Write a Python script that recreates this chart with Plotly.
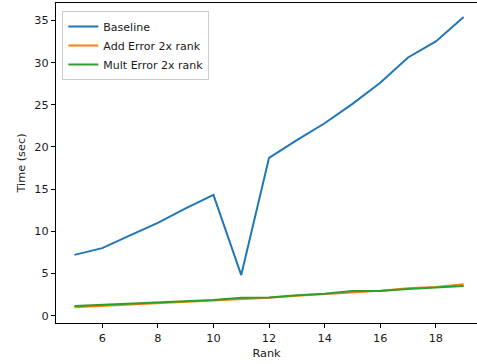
import plotly.graph_objects as go

rank = [5, 6, 7, 8, 9, 10, 11, 12, 13, 14, 15, 16, 17, 18, 19]
baseline = [7.2, 8.0, 9.5, 11.0, 12.7, 14.3, 4.8, 18.7, 20.8, 22.8, 25.1, 27.6, 30.6, 32.5, 35.4]
add_err = [1.0, 1.15, 1.3, 1.45, 1.6, 1.75, 1.95, 2.1, 2.35, 2.55, 2.8, 2.95, 3.25, 3.4, 3.7]
mult_err = [1.15, 1.3, 1.4, 1.55, 1.7, 1.85, 2.1, 2.15, 2.4, 2.6, 2.9, 2.9, 3.15, 3.35, 3.5]

names = ["Baseline", "Add Error 2x rank", "Mult Error 2x rank"]
colors = ["#1f77b4", "#ff7f0e", "#2ca02c"]

fig = go.Figure()
for name, ys, c in zip(names, [baseline, add_err, mult_err], colors):
    fig.add_trace(go.Scatter(x=rank, y=ys, mode="lines", name=name,
                             line=dict(color=c, width=2)))

font = dict(family="DejaVu Sans", size=11.3, color="#1a1a1a")
fig.update_layout(
    width=477, height=364,
    margin=dict(l=56, r=0, t=3, b=41),
    plot_bgcolor="white", paper_bgcolor="white",
    font=font,
    showlegend=True,
    legend=dict(x=0.015, y=0.975, xanchor="left", yanchor="top",
                bgcolor="rgba(255,255,255,0.8)", bordercolor="#cccccc", borderwidth=1,
                font=dict(family="DejaVu Sans", size=11, color="#1a1a1a"),
                itemwidth=30, tracegroupgap=0),
    xaxis=dict(range=[4.337, 19.48], tickvals=[6, 8, 10, 12, 14, 16, 18],
               showgrid=False, zeroline=False, showline=True, linecolor="black",
               linewidth=1, mirror=True, ticks="outside", ticklen=4, tickcolor="black",
               title=dict(text="Rank", standoff=5, font=font)),
    yaxis=dict(range=[-0.88, 37.06], tickvals=[0, 5, 10, 15, 20, 25, 30, 35],
               showgrid=False, zeroline=False, showline=True, linecolor="black",
               linewidth=1, mirror=False, ticks="outside", ticklen=4, tickcolor="black",
               title=dict(text="Time (sec)", standoff=6, font=font)),
)
fig.write_html("out.html", config={"displayModeBar": False})

with open("out.html", encoding="utf-8") as f:
    html = f.read()
html = html.replace("<body>", '<body style="margin:0;overflow:hidden">', 1)
with open("out.html", "w", encoding="utf-8") as f:
    f.write(html)
